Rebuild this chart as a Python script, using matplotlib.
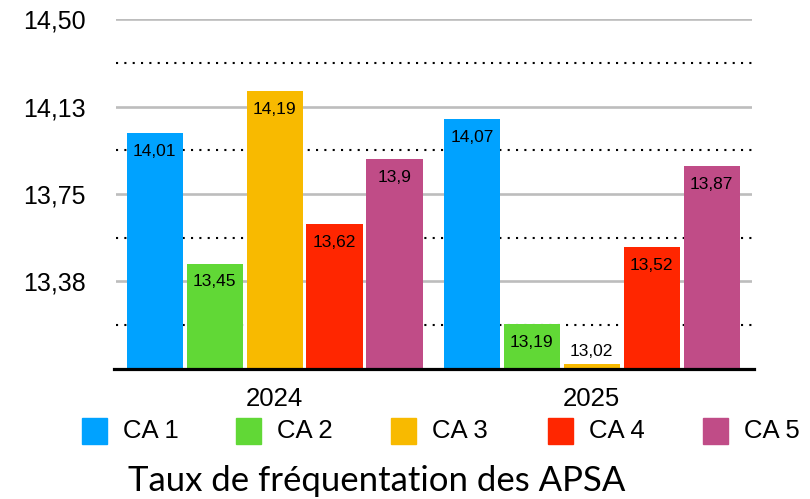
import matplotlib
matplotlib.use("Agg")
import matplotlib.pyplot as plt
from matplotlib.patches import Rectangle
import numpy as np

# data
years = ["2024", "2025"]
series = ["CA 1", "CA 2", "CA 3", "CA 4", "CA 5"]
ca1 = [14.01, 14.07]
ca2 = [13.45, 13.19]
ca3 = [14.19, 13.02]
ca4 = [13.62, 13.52]
ca5 = [13.90, 13.87]
values = [ca1, ca2, ca3, ca4, ca5]
colors = ["#00a2ff", "#61d836", "#f8ba00", "#ff2600", "#c04c87"]
yticks = [13.375, 13.75, 14.125, 14.5]
ytick_labels = ["13,38", "13,75", "14,13", "14,50"]
ymin, ymax = 13.0, 14.5

W, H = 810, 499
fig = plt.figure(figsize=(W / 100, H / 100), dpi=100)
ax = fig.add_axes([116 / W, (H - 368.5) / H, 636 / W, 349.2 / H])

x = np.arange(len(years))
step = 0.189
width = 0.177
for i, (name, vals) in enumerate(zip(series, values)):
    pos = x + (i - 2) * step
    heights = [v - ymin for v in vals]
    ax.bar(pos, heights, width, bottom=ymin, color=colors[i], zorder=3)
    for p, v in zip(pos, vals):
        lab = f"{v:g}".replace(".", ",")
        if v - ymin < 0.1:
            ax.annotate(lab, (p, v), xytext=(0, 8.6), textcoords="offset points",
                        ha="center", va="center", fontsize=12.5,
                        family="Liberation Sans", zorder=4)
        else:
            ax.annotate(lab, (p, v), xytext=(0, -13), textcoords="offset points",
                        ha="center", va="center", fontsize=12.5,
                        family="Liberation Sans", zorder=4)

# grid lines
for t in yticks:
    ax.axhline(t, color="#bdbdbd", lw=1.9, zorder=1)
mids = [(a + b) / 2 for a, b in zip([ymin] + yticks[:-1], yticks)]
for m in mids:
    ax.axhline(m, color="black", lw=1.5, linestyle=(0, (1, 3)), zorder=1)

ax.set_xlim(-0.5, 1.505)
ax.set_ylim(ymin, ymax)
ax.set_yticks(yticks)
ax.set_yticklabels(ytick_labels, fontsize=18, family="Liberation Sans")
ax.set_xticks(x)
ax.set_xticklabels(years, fontsize=18.5, family="Liberation Sans")
ax.tick_params(axis="y", length=0, pad=22)
ax.tick_params(axis="x", length=0, pad=13)
for s in ["top", "right", "left"]:
    ax.spines[s].set_visible(False)
ax.spines["bottom"].set_linewidth(2.3)
ax.spines["bottom"].set_color("black")
ax.spines["bottom"].set_zorder(5)
ax.spines["bottom"].set_bounds(-0.505, 1.51)

# legend
leg_x = [82, 236, 391, 548, 703]
for lx, name, c in zip(leg_x, series, colors):
    fig.add_artist(Rectangle((lx / W, (H - 444) / H), 25 / W, 26 / H,
                             transform=fig.transFigure, color=c))
    fig.text((lx + 41) / W, (H - 431) / H, name, fontsize=18.5,
             family="Liberation Sans", va="center", ha="left")

fig.text(377 / W, (H - 481) / H, "Taux de fréquentation des APSA",
         fontsize=25, family="Lato", ha="center", va="center")

fig.savefig("out.png", dpi=100)
